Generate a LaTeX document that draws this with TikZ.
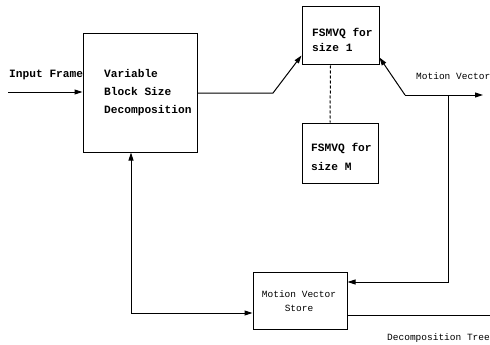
\documentclass[tikz,border=0pt]{standalone}
\usepackage{fontspec}
\setmonofont{Liberation Mono}
\usetikzlibrary{arrows.meta,calc}
\begin{document}
\begin{tikzpicture}[x=1pt,y=-1pt,
  box/.style={draw,line width=1pt,inner sep=0pt},
  bt/.style={font=\ttfamily\bfseries\fontsize{11.2}{14}\selectfont,inner sep=0pt,anchor=west,align=left},
  rt/.style={font=\ttfamily\fontsize{9.5}{13}\selectfont,inner sep=0pt,anchor=west,align=left},
  ln/.style={line width=1pt},
  arr/.style={ln,-{Triangle[length=8pt,width=5pt]}},
  darr/.style={ln,{Triangle[length=8pt,width=5pt]}-{Triangle[length=8pt,width=5pt]}}]
\useasboundingbox (0,0) rectangle (490,345);
% boxes
\node[box,minimum width=114pt,minimum height=118pt] (vbsd) at (140,93) {};
\node[box,minimum width=77pt,minimum height=58pt] (f1) at (340.5,36) {};
\node[box,minimum width=76pt,minimum height=60pt] (fM) at (340,153) {};
\node[box,minimum width=94pt,minimum height=57pt] (mvs) at (300,300.5) {};
% texts
\node[bt,font=\ttfamily\bfseries\fontsize{11.2}{18}\selectfont] (vbsdt) at (104,93) {Variable\\Block Size\\Decomposition};
\node[bt,font=\ttfamily\bfseries\fontsize{11.2}{15}\selectfont] (f1t) at (312,40) {FSMVQ for\\size 1};
\node[bt,font=\ttfamily\bfseries\fontsize{11.2}{19}\selectfont] (fMt) at (311,156.5) {FSMVQ for\\size M};
\node[rt,anchor=center,align=center,font=\ttfamily\fontsize{9.5}{14}\selectfont] (mvst) at (299,301) {Motion Vector\\Store};
\node[bt] (inlab) at (9,75) {Input Frame};
\node[rt] (mvlab) at (416,76) {Motion Vector};
\node[rt] (dtlab) at (387,338) {Decomposition Tree};
% connectors
\coordinate (inS) at (8,92);
\draw[arr] (inS) -- (inS -| vbsd.west);
\coordinate (k1) at (273,93);
\draw[arr] (vbsd.east |- k1) -- (k1) -- ($(f1.south west)+(0,-10)$);
\coordinate (k2) at (405,95);
\coordinate (mvEnd) at (483,95);
\draw[arr] (k2) -- ($(f1.south east)+(0,-8)$);
\draw[arr] (k2) -- (mvEnd);
\draw[ln,densely dashed] ($(f1.south)+(-10,0)$) -- ($(fM.north)+(-10,0)$);
\coordinate (k3) at (448,95);
\coordinate (k4) at (448,282);
\draw[arr] (k3) -- (k4) -- (k4 -| mvs.east);
\coordinate (dtEnd) at (490,315);
\draw[ln] (dtEnd -| mvs.east) -- (dtEnd);
\coordinate (k5) at (131,313);
\draw[darr] (k5 |- vbsd.south) -- (k5) -- (k5 -| mvs.west);
\end{tikzpicture}
\end{document}
